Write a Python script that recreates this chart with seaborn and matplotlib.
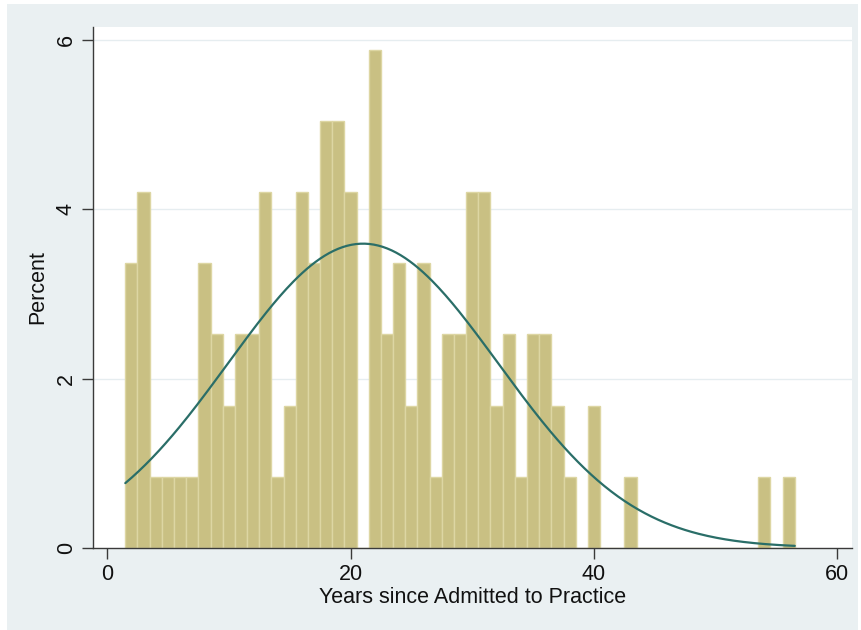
import numpy as np
import pandas as pd
import matplotlib
matplotlib.use("Agg")
import matplotlib.pyplot as plt
from matplotlib.patches import Rectangle
import seaborn as sns

# Years since admitted to practice and number of lawyers with each value
years = list(range(2, 57))
counts = [4, 5, 1, 1, 1, 1, 4, 3, 2, 3, 3, 5, 1, 2, 5, 4, 6, 6, 5, 0,
          7, 3, 4, 2, 4, 1, 3, 3, 5, 5, 2, 3, 1, 3, 3, 2, 1, 0, 2, 0,
          0, 1, 0, 0, 0, 0, 0, 0, 0, 0, 0, 0, 1, 0, 1]

x_ticks = [0, 20, 40, 60]
y_ticks = [0, 2, 4, 6]
x_label = "Years since Admitted to Practice"
y_label = "Percent"

df = pd.DataFrame({"years": years, "count": counts})

sns.set_theme(style="white")
plt.rcParams["font.family"] = ["Liberation Sans", "DejaVu Sans"]

W, H = 861, 630
fig = plt.figure(figsize=(W / 100, H / 100), dpi=100, facecolor="white")

# graph region background
fig.patches.append(Rectangle((7 / W, 0), (858 - 7) / W, (H - 4) / H,
                             transform=fig.transFigure, facecolor="#eaf0f2",
                             edgecolor="none", zorder=-5))

left, right, top, bottom = 93.3, 852, 27, 547.7
ax = fig.add_axes([left / W, 1 - bottom / H, (right - left) / W, (bottom - top) / H])
ax.set_facecolor("white")

sns.histplot(data=df, x="years", weights="count", discrete=True, stat="percent",
             color="#c9c083", edgecolor="#ddd6a3", linewidth=1.0, alpha=1.0,
             ax=ax, zorder=2)

# normal density overlay with the sample mean and SD, across the bin range
vals = np.repeat(df["years"].to_numpy(), df["count"].to_numpy())
mu, sd = vals.mean(), vals.std(ddof=1)
xs = np.linspace(vals.min() - 0.5, vals.max() + 0.5, 300)
dens = 100 * np.exp(-0.5 * ((xs - mu) / sd) ** 2) / (sd * np.sqrt(2 * np.pi))
sns.lineplot(x=xs, y=dens, color="#2a6e68", linewidth=1.6, ax=ax, zorder=3)

ax.set_xlim(-1.13, 61.2)
ax.set_ylim(0, 6.157)
ax.set_xticks(x_ticks)
ax.set_yticks(y_ticks)
ax.set_yticklabels([str(v) for v in y_ticks], rotation=90, va="center")

for y in y_ticks[1:]:
    ax.axhline(y, color="#e6edf0", linewidth=1.0, zorder=1)

for s in ["top", "right"]:
    ax.spines[s].set_visible(False)
for s in ["left", "bottom"]:
    ax.spines[s].set_color("#3a3a3a")
    ax.spines[s].set_linewidth(1.0)

ax.tick_params(axis="both", which="major", direction="out", length=8, width=1.0,
               color="#3a3a3a", labelsize=15.5, labelcolor="#111111", pad=4,
               left=True, bottom=True)
ax.set_xlabel(x_label, fontsize=15.5, color="#111111", labelpad=1)
ax.set_ylabel(y_label, fontsize=15.5, color="#111111", labelpad=5)

fig.savefig("out.png", dpi=100, facecolor=fig.get_facecolor())
